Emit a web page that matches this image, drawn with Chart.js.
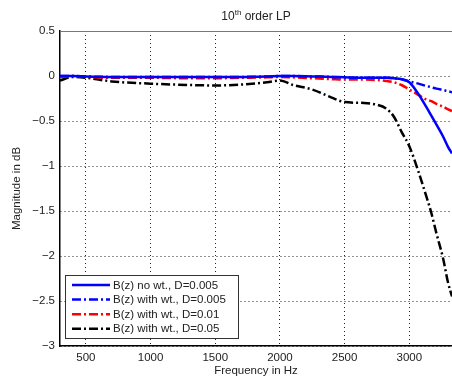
<!DOCTYPE html>
<html>
<head>
<meta charset="utf-8">
<script src="https://cdn.jsdelivr.net/npm/chart.js@4.4.0/dist/chart.umd.min.js"></script>
<style>
  html, body { margin: 0; padding: 0; background: #fff; }
  #wrap { width: 452px; height: 379px; }
</style>
</head>
<body>
<div id="wrap"><canvas id="chart" width="452" height="379"></canvas></div>
<script>
// Data
const freq = [300, 400, 500, 700, 1000, 1300, 1500, 1700, 1900, 2000, 2100, 2250, 2400, 2500,
              2650, 2750, 2820, 2880, 2940, 3000, 3070, 3130, 3170, 3210, 3260, 3300, 3330];

const noWt005   = [0, 0, -0.005, -0.01, -0.01, -0.01, -0.01, -0.01, -0.005, 0, 0, -0.005, -0.01, -0.015,
                   -0.02, -0.02, -0.02, -0.025, -0.035, -0.07, -0.2, -0.34, -0.44, -0.54, -0.67, -0.79, -0.86];
const withWt005 = [0, 0, -0.005, -0.01, -0.01, -0.01, -0.01, -0.01, -0.005, 0, 0, -0.005, -0.01, -0.015,
                   -0.02, -0.02, -0.02, -0.025, -0.035, -0.06, -0.085, -0.11, -0.125, -0.14, -0.155, -0.17, -0.18];
const withWt01  = [-0.01, 0, -0.01, -0.02, -0.02, -0.025, -0.025, -0.02, -0.015, -0.01, -0.015, -0.025, -0.035, -0.04,
                   -0.04, -0.045, -0.055, -0.07, -0.1, -0.15, -0.21, -0.26, -0.28, -0.31, -0.34, -0.37, -0.39];
const withWt05  = [-0.05, -0.01, -0.02, -0.06, -0.085, -0.1, -0.105, -0.095, -0.07, -0.05, -0.1, -0.15, -0.24, -0.29,
                   -0.3, -0.32, -0.36, -0.45, -0.62, -0.78, -1.06, -1.33, -1.52, -1.75, -2.02, -2.3, -2.45];

const seriesLabels = ['B(z) no wt., D=0.005', 'B(z) with wt., D=0.005', 'B(z) with wt., D=0.01', 'B(z) with wt., D=0.05'];
const seriesColors = ['#0000ff', '#0000ff', '#ff0000', '#000000'];
const seriesDashes = [[], [9, 3, 2, 3], [9, 3, 2, 3], [9, 3, 2, 3]];

const xTicks = [500, 1000, 1500, 2000, 2500, 3000];
const yTicks = [0.5, 0, -0.5, -1, -1.5, -2, -2.5, -3];

const FONT = 'Liberation Sans, Arial, sans-serif';

function pts(ys) {
  return freq.map((f, i) => ({ x: f, y: ys[i] }));
}

const allSeries = [noWt005, withWt005, withWt01, withWt05];

const datasets = allSeries.map((ys, i) => ({
  label: seriesLabels[i],
  data: pts(ys),
  borderColor: seriesColors[i],
  borderWidth: 2.5,
  borderDash: seriesDashes[i],
  pointRadius: 0,
  cubicInterpolationMode: 'monotone',
  fill: false,
}));

// draws title with superscript, top frame line and the legend box
const decorations = {
  id: 'decorations',
  afterDatasetsDraw(chart) {
    const { ctx, chartArea } = chart;
    ctx.save();

    // top frame
    ctx.strokeStyle = '#777';
    ctx.lineWidth = 1;
    ctx.setLineDash([]);
    ctx.beginPath();
    ctx.moveTo(chartArea.left, chartArea.top + 0.5);
    ctx.lineTo(chartArea.right, chartArea.top + 0.5);
    ctx.stroke();

    // title
    ctx.fillStyle = '#222';
    ctx.textBaseline = 'alphabetic';
    const a = '10', c = ' order LP';
    ctx.font = '8px ' + FONT;
    const wb = ctx.measureText('th').width;
    ctx.font = '12px ' + FONT;
    const wa = ctx.measureText(a).width, wc = ctx.measureText(c).width;
    let x = (chartArea.left + chartArea.right) / 2 - (wa + wb + wc) / 2;
    const y = 20;
    ctx.textAlign = 'left';
    ctx.fillText(a, x, y);
    x += wa;
    ctx.font = '8px ' + FONT;
    ctx.fillText('th', x, y - 5);
    x += wb;
    ctx.font = '12px ' + FONT;
    ctx.fillText(c, x, y);

    // legend
    const bx = 65.5, by = 275.5, bw = 173, bh = 63;
    ctx.fillStyle = '#fff';
    ctx.fillRect(bx, by, bw, bh);
    ctx.strokeStyle = '#333';
    ctx.lineWidth = 1;
    ctx.strokeRect(bx, by, bw, bh);
    ctx.font = '11.5px ' + FONT;
    ctx.textBaseline = 'middle';
    chart.data.datasets.forEach((ds, i) => {
      const ly = 285 + i * 14.6;
      ctx.strokeStyle = ds.borderColor;
      ctx.lineWidth = 2.5;
      ctx.setLineDash(ds.borderDash);
      ctx.beginPath();
      ctx.moveTo(72, ly);
      ctx.lineTo(110, ly);
      ctx.stroke();
      ctx.setLineDash([]);
      ctx.fillStyle = '#222';
      ctx.fillText(ds.label, 113, ly + 0.5);
    });

    ctx.restore();
  }
};

new Chart(document.getElementById('chart'), {
  type: 'line',
  data: { datasets },
  options: {
    responsive: false,
    animation: false,
    layout: { padding: { top: 31, right: 0, left: 0, bottom: 0 } },
    plugins: {
      legend: { display: false },
      title: { display: false },
      tooltip: { enabled: false },
    },
    scales: {
      x: {
        type: 'linear',
        min: 300,
        max: 3330,
        afterBuildTicks: s => { s.ticks = xTicks.map(v => ({ value: v })); },
        afterFit: s => { s.height = 33; },
        grid: { color: '#222', lineWidth: 1, drawTicks: false },
        border: { color: '#000', width: 1.5, dash: [1, 3] },
        ticks: {
          color: '#222',
          font: { family: FONT, size: 11.5 },
          padding: 5,
          maxRotation: 0,
          callback: v => String(v),
        },
        title: { display: true, text: 'Frequency in Hz', color: '#222', font: { family: FONT, size: 11.5 }, padding: { top: 0, bottom: 1 } },
      },
      y: {
        type: 'linear',
        min: -3,
        max: 0.5,
        afterBuildTicks: s => { s.ticks = yTicks.map(v => ({ value: v })); },
        afterFit: s => { s.width = 60; },
        grid: { color: '#222', lineWidth: 1, drawTicks: false },
        border: { color: '#000', width: 1.5, dash: [1, 3] },
        ticks: {
          color: '#222',
          font: { family: FONT, size: 11.5 },
          padding: 5,
          callback: v => (v < 0 ? '\u2212' + Math.abs(v) : String(v)),
        },
        title: { display: true, text: 'Magnitude in dB', color: '#222', font: { family: FONT, size: 11.5 }, padding: { top: 10, bottom: 0 } },
      },
    },
  },
  plugins: [decorations],
});
</script>
</body>
</html>
